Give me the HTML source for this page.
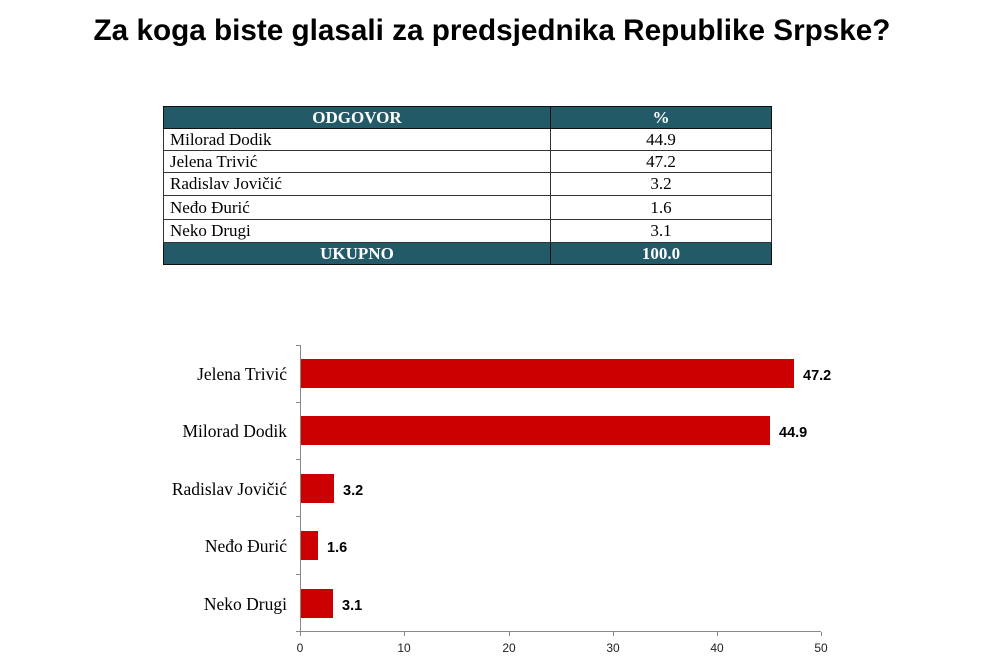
<!DOCTYPE html>
<html><head><meta charset="utf-8"><style>
body{margin:0;width:1006px;height:671px;background:#fff;position:relative;overflow:hidden;font-family:"Liberation Sans",sans-serif}
h1{position:absolute;left:0;width:984px;top:14px;margin:0;text-align:center;font-size:29.7px;font-weight:bold;color:#000}
table{position:absolute;left:163px;top:106px;width:609px;border-collapse:collapse;font-family:"Liberation Serif",serif;font-size:17px}
td{border:1.5px solid #333;padding:0 6px;height:21px;line-height:18px}
td.v{text-align:center;width:208px}
tr.h td{background:#235a67;color:#fff;font-weight:bold;text-align:center;border-color:#111}
</style></head><body>
<h1>Za koga biste glasali za predsjednika Republike Srpske?</h1>
<table>
<tr class="h"><td>ODGOVOR</td><td class="v">%</td></tr>
<tr><td>Milorad Dodik</td><td class="v">44.9</td></tr>
<tr><td>Jelena Trivić</td><td class="v">47.2</td></tr>
<tr><td style="height:22px">Radislav Jovičić</td><td class="v">3.2</td></tr>
<tr><td style="height:23px">Neđo Đurić</td><td class="v">1.6</td></tr>
<tr><td style="height:22px">Neko Drugi</td><td class="v">3.1</td></tr>
<tr class="h"><td>UKUPNO</td><td class="v">100.0</td></tr>
</table>
<svg width="1006" height="671" style="position:absolute;left:0;top:0">
<g stroke="#888" stroke-width="1">
<line x1="300.5" y1="345" x2="300.5" y2="632"/>
<line x1="300" y1="631.5" x2="821" y2="631.5"/>
<line x1="296" y1="345.5" x2="300" y2="345.5"/><line x1="296" y1="402.5" x2="300" y2="402.5"/><line x1="296" y1="459.5" x2="300" y2="459.5"/><line x1="296" y1="516.5" x2="300" y2="516.5"/><line x1="296" y1="574.5" x2="300" y2="574.5"/><line x1="296" y1="631.5" x2="300" y2="631.5"/>
<line x1="300.5" y1="632" x2="300.5" y2="636"/><line x1="404.5" y1="632" x2="404.5" y2="636"/><line x1="509.5" y1="632" x2="509.5" y2="636"/><line x1="613.5" y1="632" x2="613.5" y2="636"/><line x1="717.5" y1="632" x2="717.5" y2="636"/><line x1="821.5" y1="632" x2="821.5" y2="636"/>
</g>
<g fill="#cc0000">
<rect x="301" y="359" width="493" height="29"/>
<rect x="301" y="416" width="469" height="29"/>
<rect x="301" y="474" width="33" height="29"/>
<rect x="301" y="531" width="17" height="29"/>
<rect x="301" y="589" width="32" height="29"/>
</g>
<g font-family="Liberation Sans,sans-serif" font-weight="bold" font-size="14.5" fill="#000">
<text x="803" y="380">47.2</text><text x="779" y="437">44.9</text><text x="343" y="495">3.2</text><text x="327" y="552">1.6</text><text x="342" y="610">3.1</text>
</g>
<g font-family="Liberation Serif,serif" font-size="17.5" fill="#000" text-anchor="end">
<text x="287" y="380">Jelena Trivić</text><text x="287" y="437">Milorad Dodik</text><text x="287" y="495">Radislav Jovičić</text><text x="287" y="552">Neđo Đurić</text><text x="287" y="610">Neko Drugi</text>
</g>
<g font-family="Liberation Sans,sans-serif" font-size="12" fill="#222" text-anchor="middle">
<text x="300" y="652">0</text><text x="404" y="652">10</text><text x="509" y="652">20</text><text x="613" y="652">30</text><text x="717" y="652">40</text><text x="821" y="652">50</text>
</g>
</svg>
</body></html>
